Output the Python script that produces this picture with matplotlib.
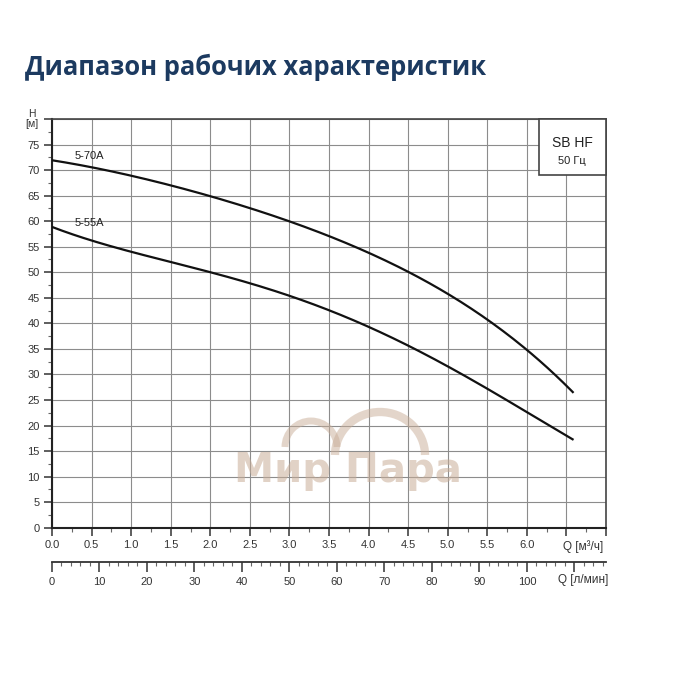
import matplotlib
matplotlib.use("Agg")
import matplotlib.pyplot as plt
from matplotlib.patches import Rectangle, Arc
import numpy as np

# curve data
q_m3h = [0.0, 0.5, 1.0, 1.5, 2.0, 2.5, 3.0, 3.5, 4.0, 4.5, 5.0, 5.5, 6.0, 6.59]
h_5_70a = [72.0, 70.5, 68.8, 66.9, 65.0, 62.7, 60.0, 57.1, 53.9, 49.8, 45.6, 40.8, 35.2, 26.2]
h_5_55a = [58.9, 56.2, 54.0, 51.9, 50.1, 48.0, 45.4, 42.4, 39.2, 35.8, 31.6, 27.2, 22.6, 17.2]

curve_names = ["5-70A", "5-55A"]
x_labels = ["0.0", "0.5", "1.0", "1.5", "2.0", "2.5", "3.0", "3.5", "4.0",
            "4.5", "5.0", "5.5", "6.0", "", ""]
y_labels = [str(v) for v in range(0, 80, 5)] + [""]
lmin_labels = [str(v) for v in range(0, 110, 10)] + [""]

plt.rcParams['font.family'] = ['Liberation Sans', 'DejaVu Sans']
tick_col = '#333333'

fig = plt.figure(figsize=(7, 7), dpi=100)

# title
fig.text(25 / 700, 1 - 67 / 700, "Диапазон рабочих характеристик",
         family=['Open Sans', 'DejaVu Sans'], fontweight='bold', fontsize=18.4,
         color='#1c3a60', va='center', ha='left')

left, right = 52 / 700, 606 / 700
bottom, top = 1 - 527.7 / 700, 1 - 119 / 700
ax = fig.add_axes([left, bottom, right - left, top - bottom])

# smooth curves through the read points
for hs, name in zip([h_5_70a, h_5_55a], curve_names):
    coef = np.polyfit(q_m3h, hs, 4)
    qq = np.linspace(q_m3h[0], q_m3h[-1], 200)
    ax.plot(qq, np.polyval(coef, qq), color='#111111', lw=1.6, zorder=3,
            solid_capstyle='butt')
    ax.text(0.29, hs[0] + 0.8, name, fontsize=8, color='#222222', va='center')

ax.set_xlim(0, 7)
ax.set_ylim(0, 80)
ax.set_xticks(np.arange(0, 7.01, 0.5))
ax.set_xticklabels(x_labels)
ax.set_xticks(np.arange(0, 7.01, 0.25), minor=True)
ax.set_yticks(np.arange(0, 80.01, 5))
ax.set_yticklabels(y_labels)
ax.set_yticks(np.arange(0, 80.01, 2.5), minor=True)
ax.grid(True, which='major', color='#8c8c8c', lw=0.8)
ax.tick_params(which='major', length=6, width=1.1, color='#333333',
               labelsize=8, labelcolor=tick_col, pad=3)
ax.tick_params(which='minor', length=3, width=0.8, color='#666666')
for side in ['left', 'bottom']:
    ax.spines[side].set_linewidth(1.5)
    ax.spines[side].set_color('#222222')
for side in ['top', 'right']:
    ax.spines[side].set_linewidth(1.2)
    ax.spines[side].set_color('#444444')

# axis captions
ax.text(-0.26, 80, "H\n[м]", fontsize=7.5, color=tick_col, ha='center',
        va='center', linespacing=1.0)
ax.text(6.96, -3.6, "Q [м³/ч]", fontsize=8.5, color=tick_col, ha='right', va='center')

# model box
ax.add_patch(Rectangle((6.15, 69.1), 0.85, 10.9, facecolor='white',
                       edgecolor='#444444', lw=1.2, zorder=4, clip_on=False))
ax.text(6.575, 75.4, "SB HF", fontsize=10, color='#222222', ha='center',
        va='center', zorder=5)
ax.text(6.575, 71.8, "50 Гц", fontsize=8, color='#222222', ha='center',
        va='center', zorder=5)

# second scale in l/min
ax2 = fig.add_axes([left, 1 - 561.7 / 700, right - left, 0.0001])
ax2.set_xlim(0, 7 * 1000 / 60)
ax2.set_yticks([])
for side in ['left', 'right', 'top']:
    ax2.spines[side].set_visible(False)
ax2.spines['bottom'].set_linewidth(1.3)
ax2.spines['bottom'].set_color('#333333')
ax2.set_xticks(np.arange(0, 111, 10))
ax2.set_xticklabels(lmin_labels)
ax2.set_xticks(np.arange(0, 117, 2), minor=True)
ax2.tick_params(which='major', length=7, width=1.1, color='#333333',
                labelsize=8, labelcolor=tick_col, pad=4)
ax2.tick_params(which='minor', length=3, width=0.8, color='#666666')
fig.text(right + 2 / 700, 1 - 580 / 700, "Q [л/мин]", fontsize=8.5,
         color=tick_col, ha='right', va='center')

# watermark
wm = '#c9ad97'
fig.text(348 / 700, 1 - 471 / 700, "Мир Пара", fontsize=29, fontweight='bold',
         color=wm, alpha=0.55, ha='center', va='center',
         family=['DejaVu Sans'])
wax = fig.add_axes([0, 0, 1, 1], facecolor='none')
wax.set_xlim(0, 700)
wax.set_ylim(700, 0)
wax.axis('off')
wax.add_patch(Arc((311, 447), 52, 52, theta1=180, theta2=360, color=wm,
                  lw=5, alpha=0.5))
wax.add_patch(Arc((380, 455), 90, 86, theta1=180, theta2=360, color=wm,
                  lw=6, alpha=0.5))

fig.savefig("out.png", dpi=100, facecolor='white')
